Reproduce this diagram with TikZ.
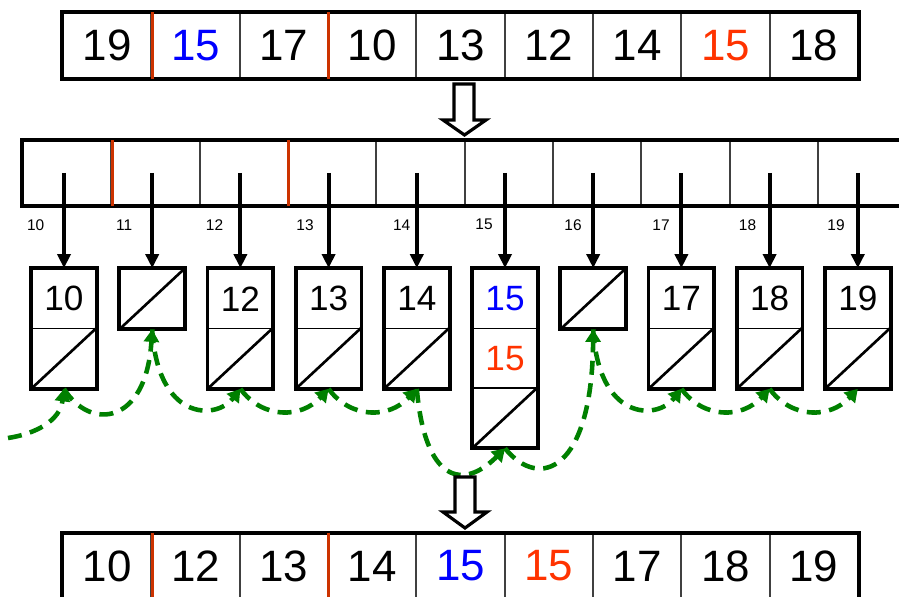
\documentclass[tikz,border=0pt]{standalone}
\usepackage{fontspec}
\setmainfont{Liberation Sans}
\usetikzlibrary{arrows.meta}
\definecolor{sepred}{RGB}{204,51,0}
\definecolor{valred}{RGB}{255,51,0}
\definecolor{linkgreen}{RGB}{0,128,0}

\begin{document}
\begin{tikzpicture}
		[x=0.02cm,y=-0.02cm,
		cell/.style={draw=black!75,line width=1pt,minimum width=1.7667cm,
minimum height=1.3cm,inner sep=0pt,font=\fontsize{25}{30}\selectfont},
		slot/.style={draw=black!75,line width=1pt,minimum width=1.7667cm,
minimum height=1.28cm,inner sep=0pt},
		entry/.style={draw=black,line width=1pt,minimum width=1.28cm,
minimum height=1.19cm,inner sep=0pt,font=\fontsize{20}{24}\selectfont},
		keytext/.style={inner sep=0pt,font=\fontsize{8.8}{10}\selectfont},
		frame/.style={line width=2.2pt},
		divider/.style={sepred,line width=1.7pt},
		nil/.style={line width=1.5pt},
		ptr/.style={-{Triangle[length=0.28cm,width=0.26cm]},line width=2.2pt},
		link/.style={-{Triangle[length=0.25cm,width=0.3cm]},linkgreen,
line width=2.6pt,dash pattern=on 0.28cm off 0.17cm},
		hollow/.style={line width=1.8pt,fill=white,line join=miter}]
		\useasboundingbox (0,0) rectangle (899,597);
		% input array
		\node at (107.2,45.5) (a1) [cell] {19};
		\node at (195.5,45.5) (a2) [cell,text=blue] {15};
		\node at (283.8,45.5) (a3) [cell] {17};
		\node at (372.2,45.5) (a4) [cell] {10};
		\node at (460.5,45.5) (a5) [cell] {13};
		\node at (548.8,45.5) (a6) [cell] {12};
		\node at (637.2,45.5) (a7) [cell] {14};
		\node at (725.5,45.5) (a8) [cell,text=valred] {15};
		\node at (813.8,45.5) (a9) [cell] {18};
		\draw[frame] (a1.north west) rectangle (a9.south east);
		\draw[divider] (a1.north east) -- (a1.south east);
		\draw[divider] (a3.north east) -- (a3.south east);
		\draw[hollow] (454,84) -- (474,84) -- (474,120) -- (486,120) -- (464.5,135)
			-- (443,120) -- (454,120) -- cycle;
		% buckets
		\node at (67.2,173) (m10) [slot] {};
		\node at (155.5,173) (m11) [slot] {};
		\node at (243.8,173) (m12) [slot] {};
		\node at (332.2,173) (m13) [slot] {};
		\node at (420.5,173) (m14) [slot] {};
		\node at (508.8,173) (m15) [slot] {};
		\node at (597.2,173) (m16) [slot] {};
		\node at (685.5,173) (m17) [slot] {};
		\node at (773.8,173) (m18) [slot] {};
		\node at (862.2,173) (m19) [slot] {};
		\draw[frame] (m10.north west) rectangle (m19.south east);
		\draw[divider] (m10.north east) -- (m10.south east);
		\draw[divider] (m12.north east) -- (m12.south east);
		\node at (35.7,224.7) (k10) [keytext] {10};
		\node at (124.2,224.7) (k11) [keytext] {11};
		\node at (214.5,224.7) (k12) [keytext] {12};
		\node at (305,224.7) (k13) [keytext] {13};
		\node at (401.7,224.7) (k14) [keytext] {14};
		\node at (484,224.7) (k15) [keytext] {15};
		\node at (573,224.7) (k16) [keytext] {16};
		\node at (661,224.7) (k17) [keytext] {17};
		\node at (747.5,224.7) (k18) [keytext] {18};
		\node at (836,224.7) (k19) [keytext] {19};
		% lists
		\node at (64,298.75) (v10) [entry] {10};
		\node at (64,358.25) (n10) [entry] {};
		\node at (152.2,298.75) (n11) [entry] {};
		\node at (240.4,298.75) (v12) [entry] {12};
		\node at (240.4,358.25) (n12) [entry] {};
		\node at (328.6,298.75) (v13) [entry] {13};
		\node at (328.6,358.25) (n13) [entry] {};
		\node at (416.8,298.75) (v14) [entry] {14};
		\node at (416.8,358.25) (n14) [entry] {};
		\node at (505,298.75) (v15) [entry,text=blue] {15};
		\node at (505,358.25) (w15) [entry,text=valred] {15};
		\node at (505,417.75) (n15) [entry] {};
		\node at (593.2,298.75) (n16) [entry] {};
		\node at (681.4,298.75) (v17) [entry] {17};
		\node at (681.4,358.25) (n17) [entry] {};
		\node at (769.6,298.75) (v18) [entry] {18};
		\node at (769.6,358.25) (n18) [entry] {};
		\node at (857.8,298.75) (v19) [entry] {19};
		\node at (857.8,358.25) (n19) [entry] {};
		\draw[frame] (v10.north west) rectangle (n10.south east);
		\draw[frame] (n11.north west) rectangle (n11.south east);
		\draw[frame] (v12.north west) rectangle (n12.south east);
		\draw[frame] (v13.north west) rectangle (n13.south east);
		\draw[frame] (v14.north west) rectangle (n14.south east);
		\draw[frame] (v15.north west) rectangle (n15.south east);
		\draw[frame] (n16.north west) rectangle (n16.south east);
		\draw[frame] (v17.north west) rectangle (n17.south east);
		\draw[frame] (v18.north west) rectangle (n18.south east);
		\draw[frame] (v19.north west) rectangle (n19.south east);
		\draw[nil] (n10.south west) -- (n10.north east);
		\draw[nil] (n11.south west) -- (n11.north east);
		\draw[nil] (n12.south west) -- (n12.north east);
		\draw[nil] (n13.south west) -- (n13.north east);
		\draw[nil] (n14.south west) -- (n14.north east);
		\draw[nil] (n15.south west) -- (n15.north east);
		\draw[nil] (n16.south west) -- (n16.north east);
		\draw[nil] (n17.south west) -- (n17.north east);
		\draw[nil] (n18.south west) -- (n18.north east);
		\draw[nil] (n19.south west) -- (n19.north east);
		% bucket pointers
		\draw[ptr] (v10.north |- m10.center) -- (v10.north);
		\draw[ptr] (n11.north |- m11.center) -- (n11.north);
		\draw[ptr] (v12.north |- m12.center) -- (v12.north);
		\draw[ptr] (v13.north |- m13.center) -- (v13.north);
		\draw[ptr] (v14.north |- m14.center) -- (v14.north);
		\draw[ptr] (v15.north |- m15.center) -- (v15.north);
		\draw[ptr] (n16.north |- m16.center) -- (n16.north);
		\draw[ptr] (v17.north |- m17.center) -- (v17.north);
		\draw[ptr] (v18.north |- m18.center) -- (v18.north);
		\draw[ptr] (v19.north |- m19.center) -- (v19.north);
		% collect chain
		\coordinate (in) at (8,438);
		\draw[link] (in) .. controls +(27,-4) and +(-4,32) .. (n10.south);
		\draw[link] (n10.south) .. controls +(26,42) and +(-6,96) .. (n11.south);
		\draw[link] (n11.south) .. controls +(5,91) and +(-25,32) .. (n12.south);
		\draw[link] (n12.south) .. controls +(22,30) and +(-28,30) .. (n13.south);
		\draw[link] (n13.south) .. controls +(22,30) and +(-28,30) .. (n14.south);
		\draw[link] (n14.south) .. controls +(8,92) and +(-43,43) .. (n15.south);
		\draw[link] (n15.south) .. controls +(35,43) and +(-1,141) .. (n16.south);
		\draw[link] (n16.south) .. controls +(5,91) and +(-25,32) .. (n17.south);
		\draw[link] (n17.south) .. controls +(22,30) and +(-28,30) .. (n18.south);
		\draw[link] (n18.south) .. controls +(22,30) and +(-28,30) .. (n19.south);
		\draw[hollow] (455,477) -- (475,477) -- (475,512) -- (487,512) -- (465,528)
			-- (443,512) -- (455,512) -- cycle;
		% output array
		\node at (107.2,566) (b1) [cell] {10};
		\node at (195.5,566) (b2) [cell] {12};
		\node at (283.8,566) (b3) [cell] {13};
		\node at (372.2,566) (b4) [cell] {14};
		\node at (460.5,566) (b5) [cell,text=blue] {15};
		\node at (548.8,566) (b6) [cell,text=valred] {15};
		\node at (637.2,566) (b7) [cell] {17};
		\node at (725.5,566) (b8) [cell] {18};
		\node at (813.8,566) (b9) [cell] {19};
		\draw[frame] (b1.north west) rectangle (b9.south east);
		\draw[divider] (b1.north east) -- (b1.south east);
		\draw[divider] (b3.north east) -- (b3.south east);
	\end{tikzpicture}
\end{document}
